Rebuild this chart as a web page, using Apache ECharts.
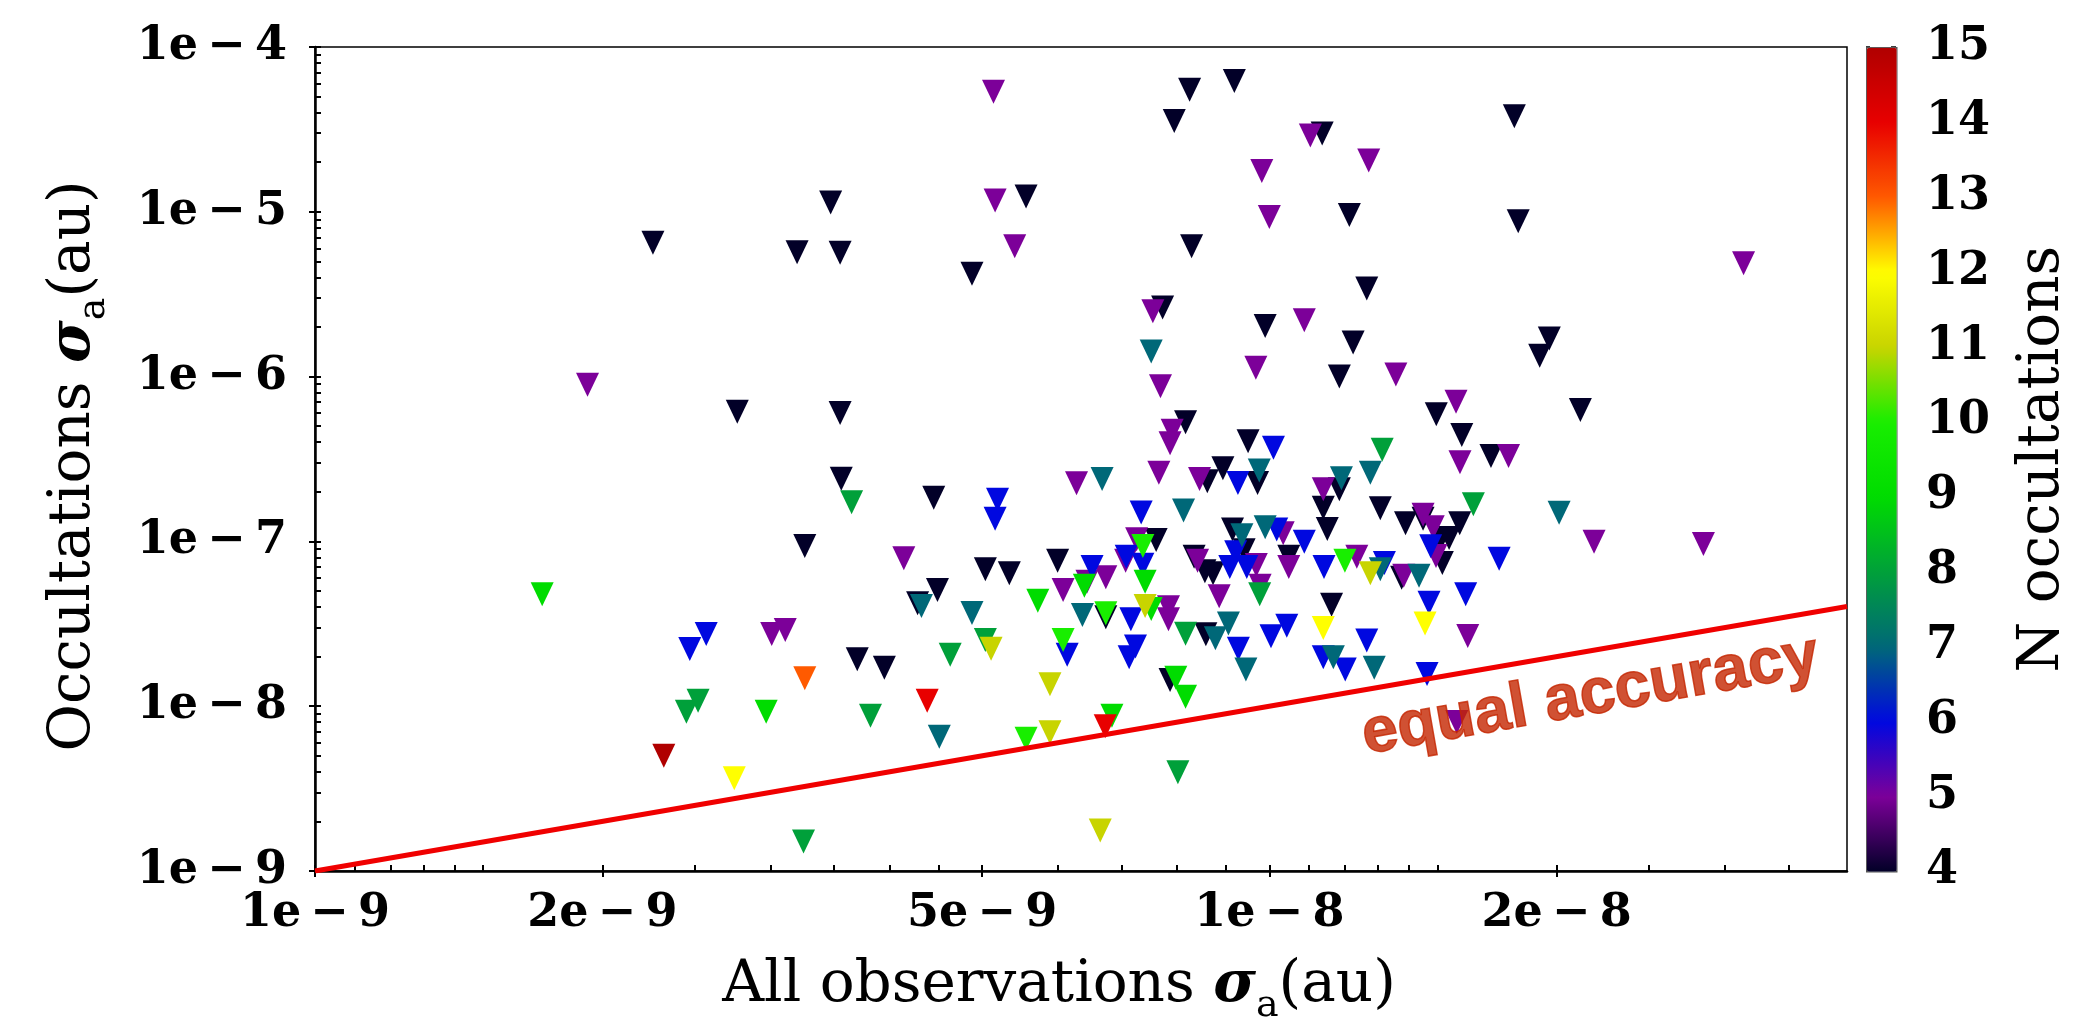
<!DOCTYPE html>
<html><head><meta charset="utf-8">
<script src="https://cdn.jsdelivr.net/npm/echarts@6/dist/echarts.min.js"></script>
<style>html,body{margin:0;padding:0;background:#fff}#c{width:2085px;height:1033px}</style>
</head><body><div id="c"></div>
<script>
// ---- data: [sigma_a all observations, sigma_a occultations] grouped by N occultations ----
const n4 = [[2.26e-9,6.49e-6],[3.20e-9,5.68e-6],[3.47e-9,1.14e-5],[8.25e-9,5.51e-5],[9.19e-9,6.22e-5],[7.95e-9,3.56e-5],
 [1.136e-8,2.99e-5],[5.56e-9,1.24e-5],[3.55e-9,5.65e-6],[4.88e-9,4.21e-6],[8.29e-9,6.17e-6],[7.73e-9,2.63e-6],[9.90e-9,2.03e-6],
 [1.806e-8,3.80e-5],[1.213e-8,9.56e-6],[1.823e-8,8.76e-6],[1.265e-8,3.43e-6],[2.77e-9,6.12e-7],[3.26e-9,9.38e-8],[3.55e-9,6.01e-7],
 [1.184e-8,1.00e-6],[8.17e-9,5.28e-7],[9.50e-9,4.05e-7],[3.56e-9,2.40e-7],[8.94e-9,2.78e-7],[8.61e-9,2.32e-7],[9.72e-9,2.26e-7],
 [1.184e-8,2.07e-7],[4.45e-9,1.84e-7],[1.139e-8,1.60e-7],[9.15e-9,1.18e-7],[1.150e-8,1.19e-7],[7.61e-9,1.02e-7],[6.00e-9,7.64e-8],
 [5.04e-9,6.77e-8],[5.34e-9,6.40e-8],[4.49e-9,5.07e-8],[8.34e-9,8.08e-8],[8.56e-9,6.59e-8],[8.73e-9,6.40e-8],[9.41e-9,8.83e-8],
 [1.048e-8,8.08e-8],[1.162e-8,4.13e-8],[4.28e-9,4.21e-8],[6.74e-9,3.46e-8],[3.70e-9,1.93e-8],[3.95e-9,1.71e-8],[8.58e-9,2.73e-8],
 [7.87e-9,1.44e-8],[1.224e-8,1.61e-6],[1.965e-8,1.70e-6],[1.92e-8,1.34e-6],[1.496e-8,5.90e-7],[2.118e-8,6.27e-7],[1.591e-8,4.42e-7],
 [1.707e-8,3.30e-7],[1.307e-8,1.59e-7],[1.389e-8,1.29e-7],[1.449e-8,1.37e-7],[1.583e-8,1.29e-7],[1.51e-8,1.02e-7],[1.543e-8,1.05e-7],
 [1.518e-8,7.39e-8],[1.376e-8,6.02e-8]];
const n5 = [[5.14e-9,5.36e-5],[1.104e-8,2.90e-5],[9.82e-9,1.77e-5],[5.16e-9,1.17e-5],[1.00e-8,9.30e-6],[5.41e-9,6.17e-6],
 [7.55e-9,2.49e-6],[1.088e-8,2.20e-6],[1.271e-8,2.05e-5],[3.14e-8,4.87e-6],[1.93e-9,8.93e-7],[9.68e-9,1.13e-6],[7.69e-9,8.73e-7],
 [7.91e-9,4.70e-7],[7.87e-9,3.94e-7],[7.66e-9,2.61e-7],[6.28e-9,2.25e-7],[8.45e-9,2.39e-7],[1.139e-8,2.07e-7],[1.034e-8,1.12e-7],
 [7.26e-9,1.03e-7],[7.07e-9,7.64e-8],[4.14e-9,7.90e-8],[6.74e-9,6.06e-8],[6.44e-9,5.69e-8],[6.08e-9,5.07e-8],[8.41e-9,7.64e-8],
 [9.69e-9,7.19e-8],[9.78e-9,5.39e-8],[8.86e-9,4.65e-8],[1.048e-8,6.99e-8],[7.84e-9,3.98e-8],[7.84e-9,3.37e-8],[1.357e-8,1.03e-6],
 [1.569e-8,7.04e-7],[1.584e-8,3.02e-7],[1.781e-8,3.30e-7],[2.189e-8,9.96e-8],[2.85e-8,9.64e-8],[1.449e-8,1.45e-7],[1.485e-8,1.22e-7],
 [1.495e-8,8.15e-8],[1.235e-8,8.08e-8],[1.383e-8,6.19e-8],[1.614e-8,2.67e-8],[1.572e-8,8.02e-9],[3.01e-9,2.74e-8],[3.11e-9,2.90e-8]];
const n6 = [[1.010e-8,3.70e-7],[9.27e-9,2.26e-7],[5.19e-9,1.79e-7],[5.16e-9,1.37e-7],[7.34e-9,1.50e-7],[1.018e-8,1.18e-7],
 [1.088e-8,9.96e-8],[7.08e-9,8.08e-8],[7.37e-9,7.22e-8],[6.52e-9,6.99e-8],[9.22e-9,8.59e-8],[9.09e-9,6.99e-8],[9.47e-9,6.99e-8],
 [1.141e-8,6.99e-8],[7.16e-9,3.37e-8],[6.14e-9,2.05e-8],[7.24e-9,2.30e-8],[7.13e-9,1.98e-8],[9.28e-9,2.23e-8],[1.004e-8,2.66e-8],
 [1.043e-8,3.08e-8],[1.139e-8,1.98e-8],[1.201e-8,1.67e-8],[1.476e-8,9.34e-8],[1.741e-8,7.86e-8],[1.320e-8,7.39e-8],[1.606e-8,4.78e-8],
 [1.470e-8,4.25e-8],[1.265e-8,2.50e-8],[1.463e-8,1.57e-8],[2.57e-9,2.74e-8],[2.47e-9,2.22e-8]];
const n7 = [[7.52e-9,1.42e-6],[9.76e-9,2.69e-7],[6.68e-9,2.39e-7],[1.190e-8,2.42e-7],[8.13e-9,1.54e-7],[9.36e-9,1.09e-7],
 [9.90e-9,1.22e-7],[4.32e-9,4.06e-8],[4.88e-9,3.68e-8],[6.37e-9,3.58e-8],[8.78e-9,2.58e-8],[9.06e-9,3.18e-8],[9.45e-9,1.67e-8],
 [1.167e-8,1.98e-8],[4.51e-9,6.53e-9],[1.276e-8,2.61e-7],[2.012e-8,1.49e-7],[1.307e-8,6.77e-8],[1.435e-8,6.19e-8],[1.288e-8,1.71e-8]];
const n8 = [[3.65e-9,1.73e-7],[9.77e-9,4.78e-8],[4.63e-9,2.05e-8],[5.04e-9,2.52e-8],[8.17e-9,2.75e-8],[3.82e-9,8.76e-9],
 [8.02e-9,3.97e-9],[1.313e-8,3.60e-7],[1.636e-8,1.68e-7],[2.52e-9,1.08e-8],[2.45e-9,9.26e-9],[3.25e-9,1.51e-9]];
const n9 = [[1.73e-9,4.78e-8],[6.40e-9,5.39e-8],[7.41e-9,5.69e-8],[5.72e-9,4.37e-8],[7.52e-9,3.89e-8],[7.98e-9,1.49e-8],
 [8.17e-9,1.14e-8],[6.84e-9,8.76e-9],[2.97e-9,9.26e-9]];
const n10 = [[7.37e-9,9.38e-8],[1.200e-8,7.64e-8],[6.74e-9,3.66e-8],[6.08e-9,2.52e-8],[5.56e-9,6.35e-9]];
const n11 = [[7.41e-9,4.06e-8],[5.11e-9,2.23e-8],[5.89e-9,1.36e-8],[5.89e-9,6.94e-9],[6.65e-9,1.76e-9],[1.276e-8,6.40e-8]];
const n12 = [[1.139e-8,2.98e-8],[1.456e-8,3.18e-8],[2.75e-9,3.65e-9]];
const n13 = [[3.26e-9,1.48e-8]];
const n14 = [[4.38e-9,1.08e-8],[6.73e-9,7.55e-9]];
const n15 = [[2.32e-9,5.01e-9]];

const nLevels = [4,5,6,7,8,9,10,11,12,13,14,15];
const nGroups = [n4,n5,n6,n7,n8,n9,n10,n11,n12,n13,n14,n15];
const nColors = ['#020028','#7c0099','#0008e0','#006878','#00a03a','#00dc00','#18ee00','#c8d400','#ffff00','#ff5a00','#e80000','#b00000'];

// equal accuracy line and its label
const lineX = [1e-9, 4.03e-8];
const lineY = [1e-9, 4.03e-8];
const annoX = [2.17e-8];
const annoY = [1.15e-8];
const annoText = 'equal accuracy';

// axes
const xMin = 1e-9, xMax = 4.03e-8, yMin = 1e-9, yMax = 1e-4;
const TS = '\u2009';
const xTickVals = [1e-9, 2e-9, 5e-9, 1e-8, 2e-8];
const xTickLabels = ['1e'+TS+'−'+TS+'9','2e'+TS+'−'+TS+'9','5e'+TS+'−'+TS+'9','1e'+TS+'−'+TS+'8','2e'+TS+'−'+TS+'8'];
const xAllTicks = [1e-9,1.1e-9,1.2e-9,1.3e-9,1.4e-9,1.5e-9,2e-9,2.5e-9,3e-9,3.5e-9,4e-9,4.5e-9,5e-9,6e-9,7e-9,8e-9,9e-9,
 1e-8,1.1e-8,1.2e-8,1.3e-8,1.4e-8,1.5e-8,2e-8,2.5e-8,3e-8,3.5e-8];
const yTickVals = [1e-9, 1e-8, 1e-7, 1e-6, 1e-5, 1e-4];
const yTickLabels = ['9','8','7','6','5','4'].map(e => '1e'+TS+'−'+TS+e);
const yAllTicks = [];
yTickVals.forEach(d => { for (let m = 1; m <= 9; m++) { const v = d * m; if (v <= yMax * 1.0001) yAllTicks.push(v); } });
const cbMin = 4, cbMax = 15;

const data = [];
nGroups.forEach((g, i) => g.forEach(p => data.push([p[0], p[1], nLevels[i]])));

function fmtFrom(vals, labels) {
  return v => {
    for (let i = 0; i < vals.length; i++) {
      if (Math.abs(Math.log10(vals[i]) - Math.log10(v)) < 0.005) return labels[i];
    }
    return '';
  };
}

const serif = 'DejaVu Serif';
const tickFont = {fontFamily: serif, fontWeight: 'bold', fontSize: 46, color: '#000'};
const titleRich = {
  t: {fontFamily: serif, fontSize: 58, color: '#000', lineHeight: 68, verticalAlign: 'top'},
  s: {fontFamily: serif, fontSize: 58, fontWeight: 'bold', fontStyle: 'italic', color: '#000', lineHeight: 68, verticalAlign: 'top'},
  b: {fontFamily: serif, fontSize: 38, color: '#000', lineHeight: 38, verticalAlign: 'bottom'}
};

const chart = echarts.init(document.getElementById('c'), null, {renderer: 'canvas'});
chart.setOption({
  animation: false,
  backgroundColor: '#fff',
  grid: [
    {left: 315, top: 47, width: 1532, height: 824, show: true, borderColor: '#000', borderWidth: 1.5, backgroundColor: 'transparent', outerBoundsMode: 'none'},
    {left: 1866, top: 47, width: 30, height: 824, show: false, outerBoundsMode: 'none'}
  ],
  xAxis: [
    {gridIndex: 0, type: 'log', logBase: 10, min: xMin, max: xMax, position: 'bottom',
     axisLine: {show: true, onZero: false, lineStyle: {color: '#000', width: 2.5}},
     axisTick: {show: true, inside: false, length: 6, customValues: xTickVals, lineStyle: {color: '#000', width: 2}},
     axisLabel: Object.assign({show: true, customValues: xTickVals, formatter: fmtFrom(xTickVals, xTickLabels), margin: 20}, tickFont),
     splitLine: {show: false}, minorTick: {show: false},
     name: '{t|All observations }{s|σ}{b|a}{t|(au)}', nameLocation: 'middle', nameGap: 86,
     nameTextStyle: {rich: titleRich, padding: [0, 44, 0, 0]}},
    {gridIndex: 0, type: 'log', logBase: 10, min: xMin, max: xMax, position: 'bottom',
     axisLine: {show: false},
     axisTick: {show: true, inside: true, length: 6, customValues: xAllTicks, lineStyle: {color: '#000', width: 2}},
     axisLabel: {show: false}, splitLine: {show: false}},
    {gridIndex: 1, type: 'value', min: 0, max: 1, show: false}
  ],
  yAxis: [
    {gridIndex: 0, type: 'log', logBase: 10, min: yMin, max: yMax, position: 'left',
     axisLine: {show: true, onZero: false, lineStyle: {color: '#000', width: 2.5}},
     axisTick: {show: true, inside: false, length: 6, customValues: yTickVals, lineStyle: {color: '#000', width: 2}},
     axisLabel: Object.assign({show: true, customValues: yTickVals, formatter: fmtFrom(yTickVals, yTickLabels), margin: 28}, tickFont),
     splitLine: {show: false}, minorTick: {show: false},
     name: '{t|Occultations }{s|σ}{b|a}{t|(au)}', nameLocation: 'middle', nameGap: 202, nameRotate: 90,
     nameTextStyle: {rich: titleRich, padding: [0, 14, 0, 0]}},
    {gridIndex: 0, type: 'log', logBase: 10, min: yMin, max: yMax, position: 'left',
     axisLine: {show: false},
     axisTick: {show: true, inside: true, length: 6, customValues: yAllTicks, lineStyle: {color: '#000', width: 2}},
     axisLabel: {show: false}, splitLine: {show: false}},
    {gridIndex: 1, type: 'value', min: cbMin, max: cbMax, interval: 1, position: 'right',
     axisLine: {show: false},
     axisTick: {show: true, inside: false, length: 4, lineStyle: {color: '#000', width: 1.5}},
     axisLabel: Object.assign({show: true, margin: 30}, tickFont),
     splitLine: {show: false},
     name: 'N occultations', nameLocation: 'middle', nameGap: 118, nameRotate: 90,
     nameTextStyle: {fontFamily: serif, fontSize: 58, color: '#000'}},
    {gridIndex: 1, type: 'value', min: cbMin, max: cbMax, interval: 1, position: 'right',
     axisLine: {show: false},
     axisTick: {show: true, inside: true, length: 5, lineStyle: {color: '#000', width: 1.5}},
     axisLabel: {show: false}, splitLine: {show: false}}
  ],
  visualMap: {
    type: 'continuous', min: cbMin, max: cbMax, dimension: 2, seriesIndex: 0,
    inRange: {color: nColors},
    show: true, calculable: false, orient: 'vertical',
    left: 1866, top: 47, itemWidth: 30, itemHeight: 824, padding: 0,
    borderColor: '#555', borderWidth: 1.5, text: null, hoverLink: false
  },
  series: [
    {type: 'scatter', xAxisIndex: 0, yAxisIndex: 0, data: data,
     symbol: 'path://M0,0L2,0L1,2Z', symbolSize: [23, 24],
     itemStyle: {opacity: 1}, z: 2, silent: true},
    {type: 'line', xAxisIndex: 0, yAxisIndex: 0, data: lineX.map((x, i) => [x, lineY[i]]),
     symbol: 'none', lineStyle: {color: '#f00000', width: 5}, z: 3, silent: true},
    {type: 'scatter', xAxisIndex: 0, yAxisIndex: 0, data: annoX.map((x, i) => [x, annoY[i]]),
     symbolSize: 0, z: 4, silent: true,
     label: {show: true, position: 'inside', formatter: annoText, rotate: 10,
       fontFamily: 'Liberation Sans', fontWeight: 'bold', fontSize: 64, color: '#c42600',
       textBorderColor: '#c42600', textBorderWidth: 1.5}}
  ]
});
</script>
</body></html>
